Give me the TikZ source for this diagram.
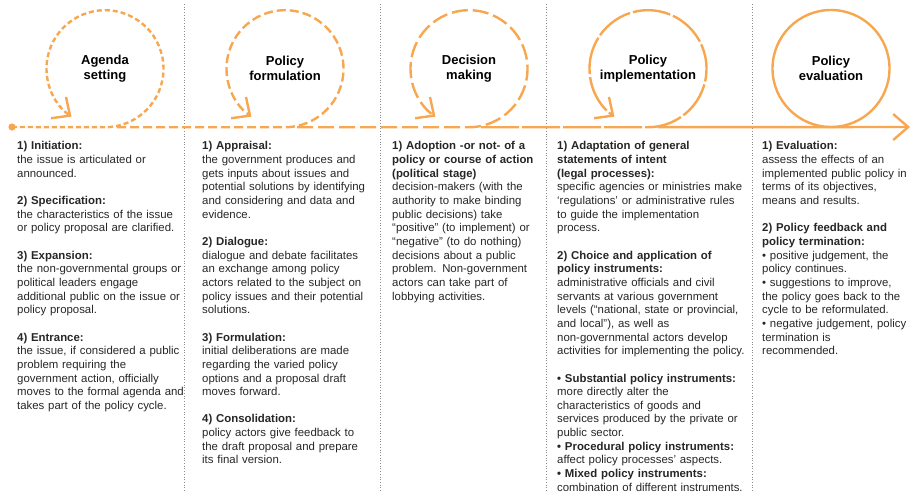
\documentclass[tikz,border=0pt]{standalone}
\usepackage{fontspec}
\setmainfont{Liberation Sans}
\usetikzlibrary{arrows.meta}
\definecolor{cycleorange}{RGB}{247,167,79}
\tikzset{
    stage/.style={circle, minimum size=117pt, inner sep=0pt, align=center, text=black, font=\fontsize{13}{15}\selectfont\bfseries},
    flow/.style={cycleorange, line width=2.4pt},
    loophead/.style={-{Straight Barb[length=14pt, width=26pt]}},
    divider/.style={black!45, dotted, line width=0.7pt},
    notes/.style={anchor=north west, inner sep=0pt, align=left, text=black!85, font=\fontsize{11.4}{13.65}\selectfont}
}
\begin{document}
\begin{tikzpicture}[x=1pt, y=-1pt]
            \useasboundingbox (0,0) rectangle (913,496);
            \draw[divider] (184,4) -- (184,492);
            \draw[divider] (380,4) -- (380,492);
            \draw[divider] (546,4) -- (546,492);
            \draw[divider] (752,4) -- (752,492);
            \node[stage] (agenda) at (105,68.5) {Agenda\\setting};
            \node[stage] (formulation) at (285,68.5) {Policy\\formulation};
            \node[stage] (decision) at (469,68.5) {Decision\\making};
            \node[stage] (implementation) at (648,68.5) {Policy\\implementation};
            \node[stage, draw=cycleorange, line width=2.4pt] (evaluation) at (831,68.5) {Policy\\evaluation};
            \coordinate (start) at (12,127);
            \coordinate (end) at (910,127);
            \fill[cycleorange] (start) circle[radius=3.6];
            \draw[flow, dash pattern=on 5pt off 3pt, loophead] (start) -- (agenda.south) arc[start angle=90, end angle=-235, radius=58.5];
            \draw[flow, dash pattern=on 9pt off 4pt, loophead] ([xshift=12pt]agenda.south) -- (formulation.south) arc[start angle=90, end angle=-235, radius=58.5];
            \draw[flow, dash pattern=on 16pt off 5pt, loophead] ([xshift=12pt]formulation.south) -- (decision.south) arc[start angle=90, end angle=-235, radius=58.5];
            \draw[flow, dash pattern=on 38pt off 3pt, loophead] ([xshift=12pt]decision.south) -- (implementation.south) arc[start angle=90, end angle=-235, radius=58.5];
            \draw[flow, -{Straight Barb[length=15pt, width=26pt]}] ([xshift=10pt]implementation.south) -- (end);
            \node[notes, text width=170pt] (agendanotes) at (17,141.5) {\textbf{1) Initiation:}\\
                the issue is articulated or\\
                announced.\\[\baselineskip]
                \textbf{2) Specification:}\\
                the characteristics of the issue\\
                or policy proposal are clarified.\\[\baselineskip]
                \textbf{3) Expansion:}\\
                the non-governmental groups or\\
                political leaders engage\\
                additional public on the issue or\\
                policy proposal.\\[\baselineskip]
                \textbf{4) Entrance:}\\
                the issue, if considered a public\\
                problem requiring the\\
                government action, officially\\
                moves to the formal agenda and\\
                takes part of the policy cycle.};
            \node[notes, text width=178pt] (formulationnotes) at (202,141.5) {\textbf{1) Appraisal:}\\
                the government produces and\\
                gets inputs about issues and\\
                potential solutions by identifying\\
                and considering and data and\\
                evidence.\\[\baselineskip]
                \textbf{2) Dialogue:}\\
                dialogue and debate facilitates\\
                an exchange among policy\\
                actors related to the subject on\\
                policy issues and their potential\\
                solutions.\\[\baselineskip]
                \textbf{3) Formulation:}\\
                initial deliberations are made\\
                regarding the varied policy\\
                options and a proposal draft\\
                moves forward.\\[\baselineskip]
                \textbf{4) Consolidation:}\\
                policy actors give feedback to\\
                the draft proposal and prepare\\
                its final version.};
            \node[notes, text width=152pt] (decisionnotes) at (392,141.5) {\textbf{1) Adoption -or not- of a}\\
                \textbf{policy or course of action}\\
                \textbf{(political stage)}\\
                decision-makers (with the\\
                authority to make binding\\
                public decisions) take\\
                “positive” (to implement) or\\
                “negative” (to do nothing)\\
                decisions about a public\\
                problem. Non-government\\
                actors can take part of\\
                lobbying activities.};
            \node[notes, text width=190pt] (implementationnotes) at (557,141.5) {\textbf{1) Adaptation of general}\\
                \textbf{statements of intent}\\
                \textbf{(legal processes):}\\
                specific agencies or ministries make\\
                ‘regulations’ or administrative rules\\
                to guide the implementation\\
                process.\\[\baselineskip]
                \textbf{2) Choice and application of}\\
                \textbf{policy instruments:}\\
                administrative officials and civil\\
                servants at various government\\
                levels (“national, state or provincial,\\
                and local”), as well as\\
                non-governmental actors develop\\
                activities for implementing the policy.\\[\baselineskip]
                \textbf{• Substantial policy instruments:}\\
                more directly alter the\\
                characteristics of goods and\\
                services produced by the private or\\
                public sector.\\
                \textbf{• Procedural policy instruments:}\\
                affect policy processes’ aspects.\\
                \textbf{• Mixed policy instruments:}\\
                combination of different instruments.};
            \node[notes, text width=148pt] (evaluationnotes) at (762,141.5) {\textbf{1) Evaluation:}\\
                assess the effects of an\\
                implemented public policy in\\
                terms of its objectives,\\
                means and results.\\[\baselineskip]
                \textbf{2) Policy feedback and}\\
                \textbf{policy termination:}\\
                • positive judgement, the\\
                policy continues.\\
                • suggestions to improve,\\
                the policy goes back to the\\
                cycle to be reformulated.\\
                • negative judgement, policy\\
                termination is\\
                recommended.};
        \end{tikzpicture}
\end{document}
